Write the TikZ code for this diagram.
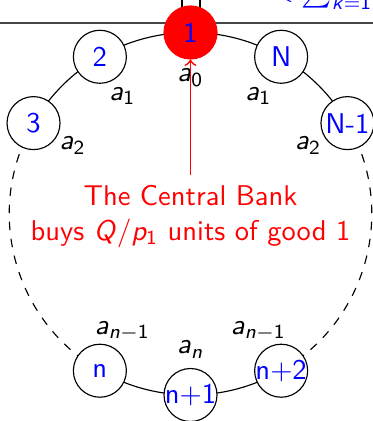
\documentclass[tikz,border=0pt]{standalone}
\usetikzlibrary{backgrounds}
\renewcommand{\familydefault}{\sfdefault}
\SetSymbolFont{operators}{normal}{OT1}{cmss}{m}{n}
\DeclareSymbolFont{sfletters}{OT1}{cmss}{m}{sl}
\DeclareMathSymbol{a}{\mathalpha}{sfletters}{`a}
\DeclareMathSymbol{n}{\mathalpha}{sfletters}{`n}
\DeclareMathSymbol{p}{\mathalpha}{sfletters}{`p}
\DeclareMathSymbol{k}{\mathalpha}{sfletters}{`k}
\DeclareMathSymbol{Q}{\mathalpha}{sfletters}{`Q}
\definecolor{rulegray}{RGB}{70,70,70}
\begin{document}
\begin{tikzpicture}[x=0.35pt,y=0.35pt,
  nd/.style={circle,draw,fill=white,minimum size=18.55pt,inner sep=0pt,text=blue,font=\sffamily},
  lbl/.style={inner sep=0pt,font=\sffamily},
  cbtext/.style={align=center,text=red,font=\sffamily,inner sep=3.33pt}]
\useasboundingbox (0,0) rectangle (373,421);
\clip (0,0) rectangle (373,421);
\coordinate (O) at (190.5,207.25);
\def\R{63.44pt}
\def\L{47.6pt}
\draw[draw=rulegray,line width=0.6pt] (0,397.7) -- (373,397.7);
\draw (182,405) rectangle (200,440);
% ring nodes
\node[nd,fill=red,draw=red] (c1) at ([shift={(90:\R)}]O) {\makebox[0pt]{1}};
\node[nd] (c2) at ([shift={(120:\R)}]O) {\makebox[0pt]{2}};
\node[nd] (c3) at ([shift={(150:\R)}]O) {\makebox[0pt]{3}};
\node[nd] (cN) at ([shift={(60:\R)}]O) {\makebox[0pt]{N}};
\node[nd] (cNm) at ([shift={(30:\R)}]O) {\makebox[0pt]{N-1}};
\node[nd] (cn) at ([shift={(-120:\R)}]O) {\makebox[0pt]{n}};
\node[nd] (cnp) at ([shift={(-90:\R)}]O) {\makebox[0pt]{n+1}};
\node[nd] (cnpp) at ([shift={(-60:\R)}]O) {\makebox[0pt]{n+2}};
% labels
\node[lbl] (l0) at ([shift={(90:\L)}]O) {$a_0$};
\node[lbl] (l1a) at ([shift={(120:\L)}]O) {$a_1$};
\node[lbl] (l1b) at ([shift={(60:\L)}]O) {$a_1$};
\node[lbl] (l2a) at ([shift={(150:\L)}]O) {$a_2$};
\node[lbl] (l2b) at ([shift={(30:\L)}]O) {$a_2$};
\node[lbl] (lna) at ([shift={(-120:\L)}]O) {$a_{n-1}$};
\node[lbl] (lnb) at ([shift={(-60:\L)}]O) {$a_{n-1}$};
\node[lbl] (lnn) at ([shift={(-90:\L)}]O) {$a_n$};
% central bank
\node[cbtext,anchor=north] (cb) at (190.5,245.5) {The Central Bank\\buys $Q/p_1$ units of good 1};
\draw[->,red,line width=0.6pt] (cb.north) -- (c1.south);
% ring arcs
\begin{scope}[on background layer]
\draw (c3.center) arc[start angle=150,end angle=30,radius=\R];
\draw[dashed] (c3.center) arc[start angle=150,end angle=240,radius=\R];
\draw[dashed] (cNm.center) arc[start angle=30,end angle=-60,radius=\R];
\draw (cn.center) arc[start angle=240,end angle=300,radius=\R];
\end{scope}
\node[text=blue,anchor=base west,inner sep=0pt] (sumtxt) at (271,419.8) {$<\sum_{k=1}$};
\end{tikzpicture}
\end{document}
